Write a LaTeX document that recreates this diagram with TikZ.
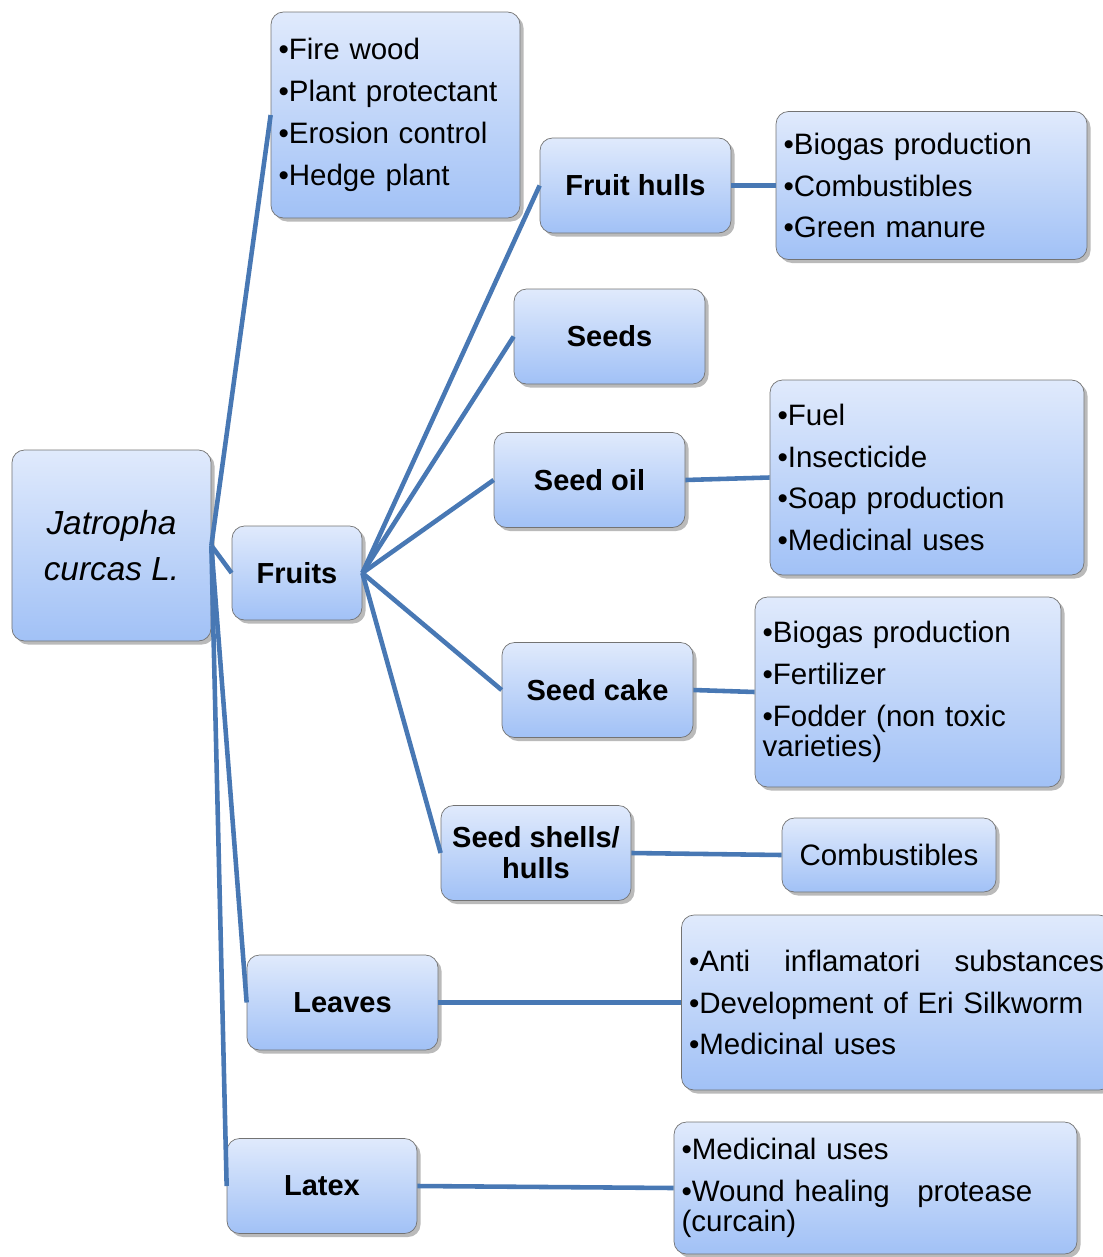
\documentclass[tikz,border=0pt]{standalone}
\usepackage{fontspec}
\setmainfont{Liberation Sans}
\usepackage{tikz}
\usetikzlibrary{shapes.geometric, shadows, positioning}
\definecolor{boxtop}{RGB}{224,234,252}
\definecolor{boxbottom}{RGB}{161,193,246}
\definecolor{linkblue}{RGB}{72,120,180}
\newcommand{\itm}{\textbullet}
\tikzstyle{box} = [rectangle, rounded corners=0.25cm, draw=black!55, top color=boxtop, bottom color=boxbottom, drop shadow={shadow xshift=0.07cm, shadow yshift=-0.07cm, fill=black!45, opacity=0.6}, font=\fontsize{16.8}{17.5}\selectfont]
\tikzstyle{plant} = [box, minimum width=3.98cm, minimum height=3.82cm, align=center, font=\fontsize{19}{26}\selectfont\itshape]
\tikzstyle{part} = [box, minimum width=3.82cm, minimum height=1.9cm, align=center, font=\fontsize{16.5}{17.5}\selectfont\bfseries]
\tikzstyle{uses} = [box, align=left, inner xsep=0.15cm]
\tikzstyle{link} = [line width=2.6pt, draw=linkblue]

\begin{document}
\begin{tikzpicture}[node distance=2cm]
\clip (0,0) rectangle (22.06,-25.14);
\node (jat) [plant] at (2.23,-10.91) {Jatropha\\curcas L.};
\node (uses) [uses, right of=jat, xshift=3.68cm, yshift=8.61cm, text width=4.68cm, minimum height=4.12cm] {\itm Fire wood\\[6.3pt]\itm Plant protectant\\[6.3pt]\itm Erosion control\\[6.3pt]\itm Hedge plant};
\node (fruits) [part, right of=jat, xshift=1.71cm, yshift=-0.55cm, minimum width=2.6cm, minimum height=1.88cm] {Fruits};
\node (leaves) [part, right of=jat, xshift=2.62cm, yshift=-9.14cm] {Leaves};
\node (latex) [part, right of=jat, xshift=2.21cm, yshift=-12.81cm, minimum width=3.8cm] {Latex};
% parts of the fruit
\node (hulls) [part, right of=fruits, xshift=4.77cm, yshift=7.75cm] {Fruit hulls};
\node (seeds) [part, right of=fruits, xshift=4.25cm, yshift=4.73cm] {Seeds};
\node (oil) [part, right of=fruits, xshift=3.85cm, yshift=1.86cm] {Seed oil};
\node (cake) [part, right of=fruits, xshift=4.01cm, yshift=-2.34cm] {Seed cake};
\node (shells) [part, right of=fruits, xshift=2.78cm, yshift=-5.60cm, minimum width=3.8cm] {Seed shells/\\hulls};
% what they are used for
\node (hullsuse) [uses, right of=hulls, xshift=3.92cm, text width=5.92cm, minimum height=2.96cm] {\itm Biogas production\\[6.3pt]\itm Combustibles\\[6.3pt]\itm Green manure};
\node (oiluse) [uses, right of=oil, xshift=4.75cm, yshift=0.05cm, text width=5.98cm, minimum height=3.9cm] {\itm Fuel\\[6.3pt]\itm Insecticide\\[6.3pt]\itm Soap production\\[6.3pt]\itm Medicinal uses};
\node (cakeuse) [uses, right of=cake, xshift=4.21cm, yshift=-0.04cm, text width=5.82cm, minimum height=3.8cm] {\itm Biogas production\\[6.3pt]\itm Fertilizer\\[6.3pt]\itm Fodder (non toxic\\varieties)};
\node (comb) [box, right of=shells, xshift=5.06cm, yshift=-0.04cm, minimum width=4.28cm, minimum height=1.48cm] {Combustibles};
\node (leavesuse) [uses, right of=leaves, xshift=9.08cm, text width=8.3cm, minimum height=3.5cm] {\hbox to 8.3cm{\itm Anti\hfill inflamatori\hfill substances}\\[6.3pt]\itm Development of Eri Silkworm\\[6.3pt]\itm Medicinal uses};
\node (latexuse) [uses, right of=latex, xshift=9.07cm, yshift=-0.04cm, text width=7.76cm, minimum height=2.64cm] {\itm Medicinal uses\\[6.3pt]\itm Wound healing\hspace{0.55cm}protease\\(curcain)};
\draw [link] (jat.east) -- (uses.west);
\draw [link] (jat.east) -- (fruits.west);
\draw [link] (jat.east) -- (leaves.west);
\draw [link] (jat.east) -- (latex.west);
\draw [link] (fruits.east) -- (hulls.west);
\draw [link] (fruits.east) -- (seeds.west);
\draw [link] (fruits.east) -- (oil.west);
\draw [link] (fruits.east) -- (cake.west);
\draw [link] (fruits.east) -- (shells.west);
\draw [link] (hulls.east) -- (hullsuse.west);
\draw [link] (oil.east) -- (oiluse.west);
\draw [link] (cake.east) -- (cakeuse.west);
\draw [link] (shells.east) -- (comb.west);
\draw [link] (leaves.east) -- (leavesuse.west);
\draw [link] (latex.east) -- (latexuse.west);
\end{tikzpicture}
\end{document}
